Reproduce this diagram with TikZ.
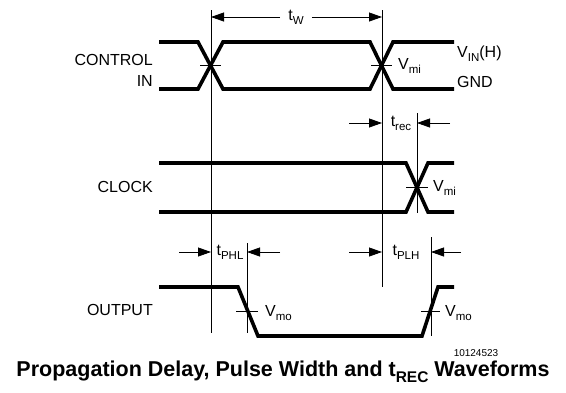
\documentclass[tikz,border=0pt]{standalone}
\usepackage{fontspec}
\setmainfont{Liberation Sans}
\usetikzlibrary{arrows.meta}
\newcommand{\dnsub}[1]{\raisebox{-0.5ex}{\scalebox{0.72}{#1}}}

\begin{document}
\begin{tikzpicture}[x=1pt, y=-1pt, >={Triangle[length=13pt,width=9pt]},
  wave/.style={line width=3.6pt, line join=miter},
  guide/.style={line width=0.8pt},
  dimarrow/.style={line width=0.8pt, ->},
  lbl/.style={font=\fontsize{16}{16}\selectfont, inner sep=0pt}]

\useasboundingbox (0,0) rectangle (566,392);

% ----------------------------
% PARAMETERS (levels, pixel rows)
% ----------------------------
\def\ciH{42}    % control in high
\def\ciL{89}    % control in low
\def\ckH{163}   % clock high
\def\ckL{212}   % clock low
\def\ouH{287}   % output high
\def\ouL{336}   % output low
\def\xs{159}    % waveform start
\def\xe{454}    % waveform end

% ----------------------------
% WAVEFORMS
% ----------------------------
\draw[wave] (\xs,\ciH) -- (198,\ciH) -- (223,\ciL) -- (370,\ciL) -- (393,\ciH) -- (\xe,\ciH);
\draw[wave] (\xs,\ciL) -- (198,\ciL) -- (223,\ciH) -- (370,\ciH) -- (393,\ciL) -- (\xe,\ciL);

\draw[wave] (\xs,\ckH) -- (406,\ckH) -- (428,\ckL) -- (\xe,\ckL);
\draw[wave] (\xs,\ckL) -- (406,\ckL) -- (428,\ckH) -- (\xe,\ckH);

\draw[wave] (\xs,\ouH) -- (238,\ouH) -- (258,\ouL) -- (422,\ouL) -- (438,\ouH) -- (\xe,\ouH);

% threshold ticks
\draw[guide] (200,65) -- (221,65);
\draw[guide] (371,65) -- (392,65);
\draw[guide] (406,187) -- (428,187);
\draw[guide] (236,311) -- (258,311);
\draw[guide] (421,311) -- (440,311);

% ----------------------------
% GUIDE LINES
% ----------------------------
\coordinate (gAtop) at (211,10);  \coordinate (gAbot) at (211,333);
\coordinate (gBtop) at (382,10);  \coordinate (gBbot) at (382,287);
\coordinate (gCtop) at (417,113); \coordinate (gCbot) at (417,213);
\coordinate (gDtop) at (247,243); \coordinate (gDbot) at (247,333);
\coordinate (gEtop) at (431,237); \coordinate (gEbot) at (431,336);

\foreach \g in {A,B,C,D,E}
  \draw[guide] (g\g top) -- (g\g bot);

% ----------------------------
% TIMING DIMENSIONS
% ----------------------------
\node[lbl] (tw) at (296,17) {t\dnsub{W}};
\draw[dimarrow] (tw.west) ++(-8,0) -- (211,17);
\draw[dimarrow] (tw.east) ++(8,0) -- (382,17);

\node[lbl] (trec) at (401,123) {t\dnsub{rec}};
\coordinate (trecL) at (349,123);
\coordinate (trecR) at (450,123);
\draw[dimarrow] (trecL) -- (382,123);
\draw[dimarrow] (trecR) -- (417,123);

\node[lbl] (tphl) at (230,252) {t\dnsub{PHL}};
\coordinate (tphlL) at (179,252);
\coordinate (tphlR) at (280,252);
\draw[dimarrow] (tphlL) -- (211,252);
\draw[dimarrow] (tphlR) -- (247,252);

\node[lbl] (tplh) at (406,252) {t\dnsub{PLH}};
\coordinate (tplhL) at (349,252);
\coordinate (tplhR) at (461,252);
\draw[dimarrow] (tplhL) -- (382,252);
\draw[dimarrow] (tplhR) -- (431,252);

% ----------------------------
% LABELS
% ----------------------------
\node[lbl, anchor=east] (ctrl) at (153,60) {CONTROL};
\node[lbl, anchor=east] (ctrlin) at (153,81) {IN};
\node[lbl, anchor=east] (clk) at (153,187) {CLOCK};
\node[lbl, anchor=east] (out) at (153,310) {OUTPUT};

\node[lbl, anchor=west] (vinh) at (457,54) {V\dnsub{IN}(H)};
\node[lbl, anchor=west] (gnd) at (457,82) {GND};
\node[lbl, anchor=west] (vmiA) at (398,66) {V\dnsub{mi}};
\node[lbl, anchor=west] (vmiB) at (433,188) {V\dnsub{mi}};
\node[lbl, anchor=west] (vmoA) at (265,313) {V\dnsub{mo}};
\node[lbl, anchor=west] (vmoB) at (445,313) {V\dnsub{mo}};

% ----------------------------
% CAPTION
% ----------------------------
\node[inner sep=0pt, font=\fontsize{10}{10}\selectfont] (fignum) at (476,353) {10124523};
\node[inner sep=0pt, font=\bfseries\fontsize{21.5}{21.5}\selectfont] (caption) at (283,372)
  {Propagation Delay, Pulse Width and t\dnsub{REC} Waveforms};

\end{tikzpicture}
\end{document}
